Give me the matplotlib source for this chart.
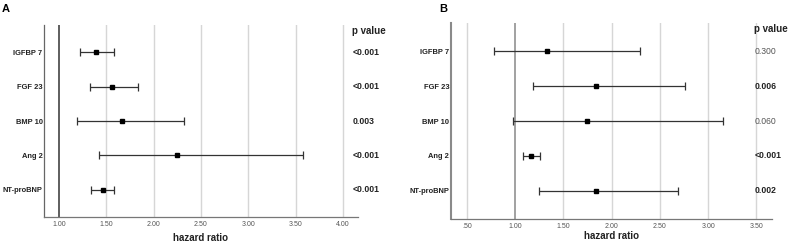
import numpy as np
import matplotlib
matplotlib.use('Agg')
import matplotlib.pyplot as plt

plt.rcParams['font.family'] = ['Liberation Sans', 'DejaVu Sans']

############################################
#
# Data.
#
markers = ['IGFBP 7', 'FGF 23', 'BMP 10', 'Ang 2', 'NT-proBNP']

hr_a = [1.39, 1.56, 1.66, 2.25, 1.46]
lo_a = [1.22, 1.33, 1.19, 1.42, 1.34]
hi_a = [1.58, 1.83, 2.32, 3.58, 1.58]
p_a = ['<0.001', '<0.001', '0.003', '<0.001', '<0.001']
p_a_bold = [True, True, True, True, True]
ticks_a = [1.0, 1.5, 2.0, 2.5, 3.0, 3.5, 4.0]
ticklabels_a = ['1.00', '1.50', '2.00', '2.50', '3.00', '3.50', '4.00']

hr_b = [1.33, 1.84, 1.75, 1.17, 1.84]
lo_b = [0.78, 1.19, 0.98, 1.08, 1.25]
hi_b = [2.30, 2.76, 3.15, 1.26, 2.69]
p_b = ['0.300', '0.006', '0.060', '<0.001', '0.002']
p_b_bold = [False, True, False, True, True]
ticks_b = [0.5, 1.0, 1.5, 2.0, 2.5, 3.0, 3.5]
ticklabels_b = ['.50', '1.00', '1.50', '2.00', '2.50', '3.00', '3.50']


def forest(ax, hr, lo, hi, pvals, pbold, ticks, ticklabels, xlim,
           ref_color, spine_color, spine_width, ptext_x, labelpad):
    rows = np.arange(1, len(markers) + 1)
    hr = np.array(hr)
    err = [hr - np.array(lo), np.array(hi) - hr]

    # grid lines and the reference line at 1
    for t in ticks:
        if t == 1.0:
            ax.axvline(t, color=ref_color, lw=1.1, zorder=1)
        else:
            ax.axvline(t, color='#d6d6d6', lw=1.0, zorder=0)

    ax.errorbar(hr, rows, xerr=err, fmt='s', color='black', ms=3.5,
                ecolor='#333333', elinewidth=0.9, capsize=2.6,
                capthick=0.9, zorder=3)

    ax.set_xlim(*xlim)
    ax.set_ylim(5.8, 0.2)
    ax.set_yticks(rows)
    ax.set_yticklabels(markers, fontsize=5.4, fontweight='bold', color='#222222')
    ax.set_xticks(ticks)
    ax.set_xticklabels(ticklabels, fontsize=5, color='#555555')
    ax.tick_params(axis='both', length=0)
    ax.tick_params(axis='y', pad=1)
    ax.tick_params(axis='x', pad=3)

    for s in ['top', 'right']:
        ax.spines[s].set_visible(False)
    ax.spines['left'].set_color(spine_color)
    ax.spines['left'].set_linewidth(spine_width)
    ax.spines['bottom'].set_color('#777777')
    ax.spines['bottom'].set_linewidth(0.9)

    ax.set_xlabel('hazard ratio', fontsize=7, fontweight='bold',
                  labelpad=labelpad, color='#222222')

    # p value column
    ax.text(ptext_x, 0.38, 'p value', fontsize=7, fontweight='bold',
            ha='left', va='center', color='#222222', clip_on=False)
    for r, p, b in zip(rows, pvals, pbold):
        ax.text(ptext_x, r, p, fontsize=6.2,
                fontweight='bold' if b else 'normal',
                color='#222222' if b else '#555555',
                ha='left', va='center', clip_on=False)


fig = plt.figure(figsize=(7.88, 2.43), dpi=100)

ax_a = fig.add_axes([0.0558, 0.107, 0.3985, 0.79])
forest(ax_a, hr_a, lo_a, hi_a, p_a, p_a_bold, ticks_a, ticklabels_a,
       (0.84, 4.16), '#333333', '#666666', 0.9, 4.10, 3.5)

ax_b = fig.add_axes([0.572, 0.099, 0.4074, 0.806])
forest(ax_b, hr_b, lo_b, hi_b, p_b, p_b_bold, ticks_b, ticklabels_b,
       (0.334, 3.66), '#888888', '#8a8a8a', 1.5, 3.48, 1)

fig.text(0.002, 0.985, 'A', fontsize=8, fontweight='bold', va='top', ha='left')
fig.text(0.557, 0.985, 'B', fontsize=8, fontweight='bold', va='top', ha='left')

fig.savefig('out.png', dpi=100)
